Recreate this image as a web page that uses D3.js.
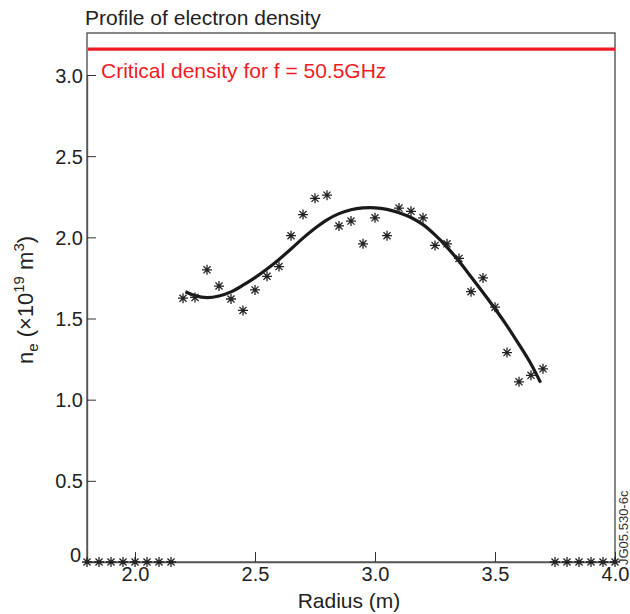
<!DOCTYPE html>
<head>
<meta charset="utf-8">
<title>Profile of electron density</title>
<script src="https://d3js.org/d3.v7.min.js"></script>
<style>
  body { margin: 0; background: #fff; }
  text { font-family: "Liberation Sans", Arial, sans-serif; fill: #222; }
</style>
</head>
<body>
<div id="chart"></div>
<script>
// ---------------- data ----------------
const radius = [2.20, 2.25, 2.30, 2.35, 2.40, 2.45, 2.50, 2.55, 2.60, 2.65, 2.70,
                2.75, 2.80, 2.85, 2.90, 2.95, 3.00, 3.05, 3.10, 3.15, 3.20, 3.25,
                3.30, 3.35, 3.40, 3.45, 3.50, 3.55, 3.60, 3.65, 3.70];
const density = [1.625, 1.63, 1.80, 1.70, 1.62, 1.55, 1.676, 1.76, 1.82, 2.01, 2.14,
                 2.24, 2.26, 2.07, 2.10, 1.96, 2.12, 2.01, 2.18, 2.16, 2.12, 1.95,
                 1.96, 1.87, 1.665, 1.75, 1.57, 1.29, 1.11, 1.15, 1.19];
// points with no signal, drawn on the axis
const edgeRadius = [1.80, 1.85, 1.90, 1.95, 2.00, 2.05, 2.10, 2.15,
                    3.75, 3.80, 3.85, 3.90, 3.95, 4.00];
const edgeDensity = [0, 0, 0, 0, 0, 0, 0, 0, 0, 0, 0, 0, 0, 0];
// fitted profile
const fitRadius = [2.21, 2.25, 2.30, 2.35, 2.40, 2.45, 2.50, 2.55, 2.60, 2.65, 2.70,
                   2.75, 2.80, 2.85, 2.90, 2.95, 3.00, 3.05, 3.10, 3.15, 3.20, 3.25,
                   3.30, 3.35, 3.40, 3.45, 3.50, 3.55, 3.60, 3.65, 3.69];
const fitDensity = [1.665, 1.641, 1.629, 1.639, 1.664, 1.705, 1.752, 1.805, 1.864, 1.928, 1.995,
                    2.056, 2.108, 2.146, 2.170, 2.181, 2.182, 2.172, 2.152, 2.122, 2.078, 2.015,
                    1.94, 1.852, 1.757, 1.66, 1.56, 1.455, 1.34, 1.22, 1.105];
const criticalDensity = 3.16;
const xTicks = [2.0, 2.5, 3.0, 3.5, 4.0];
const yTicks = [0, 0.5, 1.0, 1.5, 2.0, 2.5, 3.0];

// ---------------- svg ----------------
const width = 630, height = 614;
const plot = {left: 87, right: 615, top: 33, bottom: 562};

const svg = d3.select("#chart").append("svg")
    .attr("width", width)
    .attr("height", height);

const x = d3.scaleLinear().domain([1.8, 4.0]).range([plot.left, plot.right]);
const y = d3.scaleLinear().domain([0, 3.0]).range([plot.bottom, 75]);

// frame
svg.append("rect")
    .attr("x", plot.left).attr("y", plot.top)
    .attr("width", plot.right - plot.left).attr("height", plot.bottom - plot.top)
    .attr("fill", "none").attr("stroke", "#555").attr("stroke-width", 1.4);

// axes (ticks pointing inwards)
const xAxis = d3.axisBottom(x).tickValues(xTicks).tickSizeInner(-10).tickSizeOuter(0)
    .tickFormat(d3.format(".1f"));
const gx = svg.append("g").attr("transform", "translate(0," + plot.bottom + ")").call(xAxis);
gx.select(".domain").attr("stroke", "#555").attr("stroke-width", 1.4);
gx.selectAll(".tick line").attr("stroke", "#333");
gx.selectAll(".tick text").attr("font-size", 20).attr("y", 19).attr("dy", 0)
    .style("dominant-baseline", "auto");

const yAxis = d3.axisLeft(y).tickValues(yTicks).tickSizeInner(-9).tickSizeOuter(0)
    .tickFormat(d => d === 0 ? "0" : d3.format(".1f")(d));
const gy = svg.append("g").attr("transform", "translate(" + plot.left + ",0)").call(yAxis);
gy.select(".domain").attr("stroke", "#555").attr("stroke-width", 1.4);
gy.selectAll(".tick line").attr("stroke", "#333");
gy.selectAll(".tick text").attr("font-size", 20)
    .attr("dy", d => d === 0 ? "-0.05em" : "0.35em")
    .attr("x", d => d === 0 ? -6 : -4);

// critical density line
svg.append("line")
    .attr("x1", plot.left + 1).attr("x2", plot.right)
    .attr("y1", y(criticalDensity)).attr("y2", y(criticalDensity))
    .attr("stroke", "#ee1c25").attr("stroke-width", 3.2);
svg.append("text")
    .attr("x", 101).attr("y", 78)
    .attr("font-size", 21).style("fill", "#ee1c25")
    .text("Critical density for f = 50.5GHz");

// fitted curve
const line = d3.line()
    .x((d, i) => x(fitRadius[i]))
    .y(d => y(d))
    .curve(d3.curveCatmullRom);
svg.append("path")
    .attr("d", line(fitDensity))
    .attr("fill", "none").attr("stroke", "#1a1a1a").attr("stroke-width", 3.2);

// asterisk markers
function asterisk(r) {
  const a = r * Math.SQRT1_2;
  return "M" + (-r) + ",0L" + r + ",0M0," + (-r) + "L0," + r +
         "M" + (-a) + "," + (-a) + "L" + a + "," + a +
         "M" + (-a) + "," + a + "L" + a + "," + (-a);
}
const pts = radius.map((r, i) => ({r: r, n: density[i]}))
    .concat(edgeRadius.map((r, i) => ({r: r, n: edgeDensity[i]})));
svg.append("g").selectAll("path")
    .data(pts)
    .join("path")
    .attr("transform", d => "translate(" + x(d.r) + "," + y(d.n) + ")")
    .attr("d", asterisk(5))
    .attr("fill", "none").attr("stroke", "#222").attr("stroke-width", 1.3);

// titles
svg.append("text")
    .attr("x", 85).attr("y", 25)
    .attr("font-size", 21)
    .text("Profile of electron density");

svg.append("text")
    .attr("x", (plot.left + plot.right) / 2 - 2).attr("y", 608)
    .attr("text-anchor", "middle").attr("font-size", 21)
    .text("Radius (m)");

const ylab = svg.append("text")
    .attr("transform", "translate(33,300) rotate(-90)")
    .attr("text-anchor", "middle").attr("font-size", 22);
ylab.append("tspan").text("n");
ylab.append("tspan").attr("font-size", 15).attr("dy", 5).text("e");
ylab.append("tspan").attr("dy", -5).text(" (×10");
ylab.append("tspan").attr("font-size", 15).attr("dy", -9).text("19");
ylab.append("tspan").attr("dy", 9).text(" m");
ylab.append("tspan").attr("font-size", 15).attr("dy", -9).text("3");
ylab.append("tspan").attr("dy", 9).text(")");

svg.append("text")
    .attr("transform", "translate(628,565) rotate(-90)")
    .attr("font-size", 13).style("fill", "#333")
    .text("JG05.530-6c");
</script>
</body>
